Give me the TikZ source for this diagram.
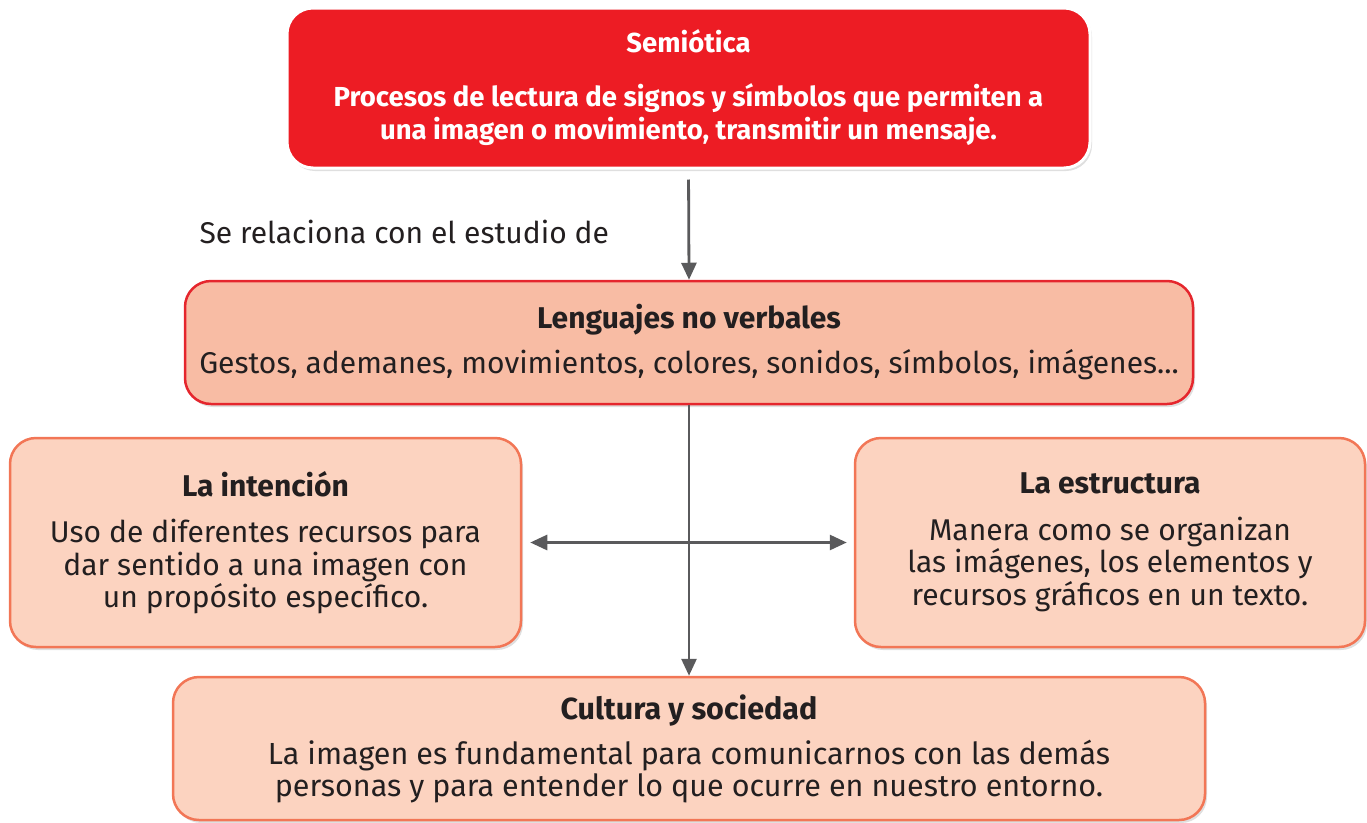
\documentclass[tikz,border=0pt]{standalone}
\usepackage{fontspec}
\setmainfont{Fira Sans}
\usetikzlibrary{arrows.meta,shadows}

\definecolor{semred}{HTML}{ED1C24}
\definecolor{lengfill}{HTML}{F8BCA4}
\definecolor{lengline}{HTML}{E5262D}
\definecolor{boxfill}{HTML}{FCD3C0}
\definecolor{boxline}{HTML}{F27656}
\definecolor{linkgray}{HTML}{5A5A5C}
\definecolor{textdark}{HTML}{231F20}

\tikzset{
	mapbox/.style={rounded corners=26pt, align=center, line width=2.5pt, inner sep=0pt,
		text=textdark, drop shadow={shadow xshift=2pt, shadow yshift=-3pt, opacity=0.25}},
	link/.style={draw=linkgray, line width=2.8pt, -{Triangle[length=17pt,width=15pt]}}
}

\begin{document}
\begin{tikzpicture}[x=1pt,y=-1pt]
	\useasboundingbox (0,0) rectangle (1367,822);

	\node[mapbox, fill=semred, draw=white, line width=3pt, text=white,
	minimum width=803pt, minimum height=160pt,
	font=\bfseries\fontsize{27.5}{33}\selectfont] (sem) at (688.5,88)
	{Semiótica\\[21pt]
	 Procesos de lectura de signos y símbolos que permiten a\\
	 una imagen o movimiento, transmitir un mensaje.};

	\node[anchor=west, text=textdark, font=\fontsize{30}{33}\selectfont] (rel) at (196,232)
	{Se relaciona con el estudio de};

	\node[mapbox, fill=lengfill, draw=lengline, minimum width=1008pt, minimum height=123pt,
	font=\fontsize{30}{33}\selectfont] (leng) at (689,342.5)
	{\textbf{Lenguajes no verbales}\\[12pt]
	 Gestos, ademanes, movimientos, colores, sonidos, símbolos, imágenes...};

	\node[mapbox, fill=boxfill, draw=boxline, minimum width=511pt, minimum height=209pt,
	font=\fontsize{30}{32.5}\selectfont] (inten) at (265.5,542.5)
	{\textbf{La intención}\\[14pt]
	 Uso de diferentes recursos para\\
	 dar sentido a una imagen con\\
	 un propósito específico.};

	\node[mapbox, fill=boxfill, draw=boxline, minimum width=510pt, minimum height=209pt,
	font=\fontsize{30}{32.5}\selectfont] (estr) at (1110,542.5)
	{\textbf{La estructura}\\[14pt]
	 Manera como se organizan\\
	 las imágenes, los elementos y\\
	 recursos gráficos en un texto.};

	\node[mapbox, fill=boxfill, draw=boxline, minimum width=1032pt, minimum height=143pt,
	font=\fontsize{30.5}{32}\selectfont] (cult) at (689,748.5)
	{\textbf{Cultura y sociedad}\\[13pt]
	 La imagen es fundamental para comunicarnos con las demás\\
	 personas y para entender lo que ocurre en nuestro entorno.};

	% conectores
	\draw[link, shorten <=10pt] (sem.south) -- (leng.north);
	\draw[link] (leng.south) -- (cult.north);
	\draw[link, {Triangle[length=17pt,width=15pt]}-{Triangle[length=17pt,width=15pt]},
	shorten <=8pt, shorten >=7pt] (inten.east) -- (estr.west);
\end{tikzpicture}
\end{document}
